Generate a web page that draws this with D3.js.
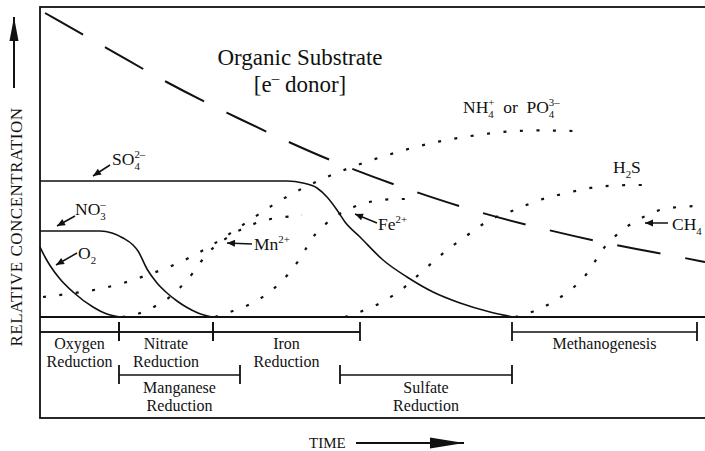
<!DOCTYPE html>
<html>
<head>
<meta charset="utf-8">
<script src="https://cdn.jsdelivr.net/npm/d3@7"></script>
<style>
  body { margin: 0; background: #fff; }
  svg { display: block; font-family: "Liberation Serif", "DejaVu Serif", serif; }
  text { fill: #111; white-space: pre; }
</style>
</head>
<body>
<div id="chart"></div>
<script>
/* Redox sequence: relative concentration over time */

const width = 705,
    height = 451;

// curves as [time, relative concentration] (arbitrary units, 0..133 by 0..62)
const substrate = [[1,60.8],[13,54],[25.4,46.8],[37.4,40.8],[49.6,35],[61.6,29.8],[75,25],[88,20.8],[101.4,17.4],[114.6,14.4],[128,12],[133,11]];
const oxygen = [[0,14],[1,12],[2,10.3],[4,7.6],[6.6,5],[10.6,2],[13.4,0.6],[16,0]];
const nitrate = [[0,17.2],[12,17.2],[14.4,16.8],[16.6,15.8],[18.6,14.4],[19.6,13.2],[21.4,9.6],[23.4,6.8],[25.4,4.8],[27.4,3.2],[29.4,1.9],[31.6,0.8],[34.4,0]];
const sulfate = [[0,27.2],[49.4,27.2],[52.6,26.8],[55.4,25.8],[57.4,24],[59.4,21.4],[61,19],[64,16],[68.6,11.4],[73.4,8],[78.6,5],[84,2.8],[90,1],[94.6,0]];

const nutrients = [[0.6,4],[7.4,4.8],[14.4,6],[21,8.2],[27.6,10.6],[33.6,13.8],[39.4,17.6],[46.4,22.4],[52.4,25.8],[58.6,28.6],[65,31],[71.4,33],[78,34.8],[84.6,36],[91.6,37],[98.4,37.4],[105,37.2],[108.4,37.2]];
const manganese = [[16.4,0],[19.4,0.4],[22.4,1.8],[25.4,3.4],[28,5.8],[30.4,8.4],[33.4,13],[36.4,15.2],[39.4,17.2],[42.6,18.6],[45.6,19.6],[49,20],[52.4,20.4]];
const iron = [[35,0],[38,1],[41.4,2.2],[44.4,3.8],[47,5.8],[49.4,8.2],[51.6,11],[53.4,14],[54.6,16.2],[57,18.6],[60,20.8],[63,22.2],[66.4,23.2],[69.6,23.6],[73,23.6]];
const sulfide = [[61,0],[63.4,0.8],[66.6,2],[69.6,3.6],[72.6,5.6],[75,7.8],[79,11.4],[81.6,13.6],[84.4,15.6],[87.2,17.6],[90,19.6],[93.4,20.8],[96.4,22],[99.6,23.4],[102.8,24.2],[106.2,25],[109.6,25.8],[113,26.2],[116.4,26.4],[123,26.4]];
const methane = [[95,0],[98.6,1],[101.6,2.4],[104.6,4.2],[107.4,6.4],[109.6,8.8],[111.4,11.8],[112.8,14],[115.2,16.4],[118,18.6],[121,20.2],[124,21.6],[127.4,22],[130.6,22.2],[133,22.2]];

// zones along the time axis
const zoneNames = ["Oxygen Reduction", "Nitrate Reduction", "Iron Reduction", "Methanogenesis", "Manganese Reduction", "Sulfate Reduction"];
const zoneStart = [0, 15.8, 34.6, 94.4, 15.8, 60];
const zoneEnd = [15.8, 34.6, 64, 131.4, 40, 94.4];
const zoneRow = [1, 1, 1, 1, 2, 2];

const svg = d3.select("#chart")
    .append("svg")
    .attr("width", width)
    .attr("height", height)
    .attr("viewBox", [0, 0, width, height]);

let x = d3.scaleLinear()
    .domain([0, 133])
    .range([40, 705]);

let y = d3.scaleLinear()
    .domain([0, 62])
    .range([317, 7]);

// frame
svg.append("rect")
    .attr("x", x(0)).attr("y", y(62))
    .attr("width", 700).attr("height", 418 - y(62))
    .attr("fill", "none").attr("stroke", "#111").attr("stroke-width", 1.8);

svg.append("line")              // zero line
    .attr("x1", x(0)).attr("x2", x(133))
    .attr("y1", y(0)).attr("y2", y(0))
    .attr("stroke", "#111").attr("stroke-width", 2);

// curves
let smooth = d3.line().x(d => x(d[0])).y(d => y(d[1])).curve(d3.curveMonotoneX);
let soft = d3.line().x(d => x(d[0])).y(d => y(d[1])).curve(d3.curveBasis);

svg.append("path")
    .datum(substrate)
    .attr("d", soft)
    .attr("fill", "none").attr("stroke", "#111").attr("stroke-width", 2)
    .attr("stroke-dasharray", "44,25");

for (let s of [oxygen, nitrate, sulfate]) {
    svg.append("path")
        .datum(s)
        .attr("d", smooth)
        .attr("fill", "none").attr("stroke", "#111").attr("stroke-width", 1.6);
}

for (let s of [nutrients, manganese, iron, sulfide, methane]) {
    svg.append("path")
        .datum(s)
        .attr("d", soft)
        .attr("fill", "none").attr("stroke", "#111").attr("stroke-width", 2.2)
        .attr("stroke-dasharray", "3,13.5");
}

// arrows
function arrow(x1, y1, x2, y2, len, half, w) {
    svg.append("line")
        .attr("x1", x1).attr("y1", y1).attr("x2", x2).attr("y2", y2)
        .attr("stroke", "#111").attr("stroke-width", w);
    let a = Math.atan2(y2 - y1, x2 - x1);
    let bx = x2 - len * Math.cos(a), by = y2 - len * Math.sin(a);
    let px = -Math.sin(a) * half, py = Math.cos(a) * half;
    svg.append("path")
        .attr("d", `M${x2},${y2}L${bx + px},${by + py}L${bx - px},${by - py}Z`)
        .attr("fill", "#111");
}

// chemical labels with sub/superscripts
function chem(t, c, segs, size) {
    let cx = x(t), cy = y(c), prev = cx;
    for (let s of segs) {
        let small = s.sub || s.sup;
        let dy = s.sub ? size * 0.3 : s.sup ? -size * 0.42 : 0;
        let sx = s.stack ? prev : cx;
        let el = svg.append("text")
            .attr("x", sx).attr("y", cy + dy)
            .attr("font-size", small ? size * 0.62 : size)
            .text(s.t);
        let w = el.node().getComputedTextLength();
        if (s.stack) cx = Math.max(cx, sx + w);
        else { prev = sx; cx = sx + w; }
    }
}

const labelSize = 17.5;
chem(14.4, 30.4, [{t: "SO"}, {t: "4", sub: true}, {t: "2\u2013", sup: true, stack: true}], labelSize);
chem(7, 20.4, [{t: "NO"}, {t: "3", sub: true}, {t: "\u2013", sup: true, stack: true}], labelSize);
chem(7.6, 11.6, [{t: "O"}, {t: "2", sub: true}], labelSize);
chem(42.8, 13.4, [{t: "Mn"}, {t: "2+", sup: true}], labelSize);
chem(67.6, 17.4, [{t: "Fe"}, {t: "2+", sup: true}], labelSize);
chem(126.4, 17.4, [{t: "CH"}, {t: "4", sub: true}], labelSize);
chem(114.6, 28.8, [{t: "H"}, {t: "2", sub: true}, {t: "S"}], labelSize);
chem(84.6, 40.8, [{t: "NH"}, {t: "4", sub: true}, {t: "+", sup: true, stack: true},
    {t: "  or  "}, {t: "PO"}, {t: "4", sub: true}, {t: "3\u2013", sup: true, stack: true}], labelSize);

arrow(x(14), y(30.4), x(10.6), y(28.2), 8, 3.5, 1.5);
arrow(x(7), y(20.2), x(3.4), y(18.2), 8, 3.5, 1.5);
arrow(x(7.4), y(12.8), x(3.2), y(10.4), 8, 3.5, 1.5);
arrow(x(42.4), y(14.6), x(37.4), y(14.8), 8, 3.5, 1.5);
arrow(x(67.4), y(18.8), x(63), y(20.6), 8, 3.5, 1.5);
arrow(x(125.6), y(18.8), x(121), y(18.8), 8, 3.5, 1.5);

// title
svg.append("text")
    .attr("x", x(52)).attr("y", y(50.4))
    .attr("text-anchor", "middle").attr("font-size", 23)
    .text("Organic Substrate");

let donor = svg.append("text")
    .attr("x", x(52)).attr("y", y(45))
    .attr("text-anchor", "middle").attr("font-size", 23);
donor.append("tspan").text("[e");
donor.append("tspan").attr("dy", -9).attr("font-size", 15).text("\u2013");
donor.append("tspan").attr("dy", 9).text(" donor]");

// zone brackets
const rowY = {1: 332, 2: 375};
const rowText = {1: 349, 2: 393};

svg.append("line")              // first row runs from the frame
    .attr("x1", x(0)).attr("x2", x(64))
    .attr("y1", rowY[1]).attr("y2", rowY[1])
    .attr("stroke", "#111").attr("stroke-width", 1.6);

zoneNames.forEach((name, i) => {
    let ry = rowY[zoneRow[i]];
    svg.append("line")
        .attr("x1", x(zoneStart[i])).attr("x2", x(zoneEnd[i]))
        .attr("y1", ry).attr("y2", ry)
        .attr("stroke", "#111").attr("stroke-width", 1.6);
    for (let t of [zoneStart[i], zoneEnd[i]]) {
        if (t === 0) continue;
        svg.append("line")
            .attr("x1", x(t)).attr("x2", x(t))
            .attr("y1", ry - 10).attr("y2", ry + 9)
            .attr("stroke", "#111").attr("stroke-width", 1.8);
    }
    let words = name.split(" ");
    let tx = x((zoneStart[i] + zoneEnd[i]) / 2);
    words.forEach((w, j) => {
        svg.append("text")
            .attr("x", tx).attr("y", rowText[zoneRow[i]] + j * 18)
            .attr("text-anchor", "middle").attr("font-size", 16)
            .text(w);
    });
});

// axis labels
svg.append("text")
    .attr("transform", "translate(22,227) rotate(-90)")
    .attr("text-anchor", "middle").attr("font-size", 17)
    .attr("letter-spacing", 0.5)
    .text("RELATIVE CONCENTRATION");
arrow(14, 88, 14, 17, 24, 4.5, 2);

svg.append("text")
    .attr("x", 309).attr("y", 448)
    .attr("font-size", 15)
    .text("TIME");
arrow(356, 443, 464, 443, 34, 5.5, 2);
</script>
</body>
</html>
